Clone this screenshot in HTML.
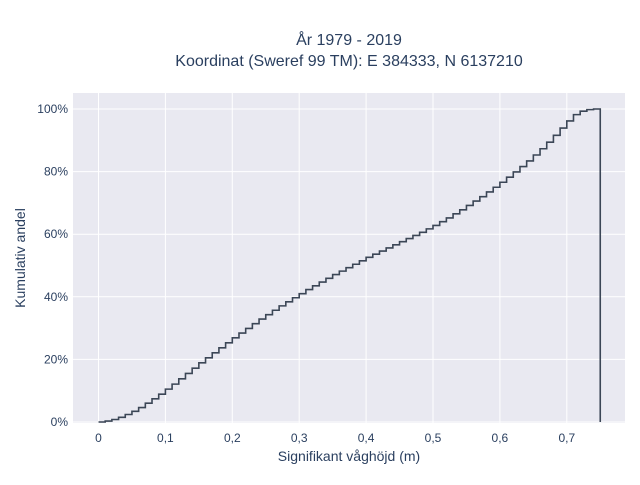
<!DOCTYPE html>
<html><head><meta charset="utf-8"><style>
body{margin:0;background:#fff;font-family:"Liberation Sans",sans-serif}
svg text{font-family:"Liberation Sans",sans-serif;fill:#2a3f5f}
</style></head><body>
<svg width="640" height="480">
<rect x="73" y="93" width="552" height="330" fill="#e9e9f1"/>
<g id="grid"></g>
<g id="axes"></g>
<path id="line" fill="none" stroke="#3b4656" stroke-width="1.6"/>
<text x="349" y="45" text-anchor="middle" font-size="16">År 1979 - 2019</text>
<text x="349" y="66" text-anchor="middle" font-size="16">Koordinat (Sweref 99 TM): E 384333, N 6137210</text>
<text x="349" y="461" text-anchor="middle" font-size="14">Signifikant våghöjd (m)</text>
<text transform="translate(25,258) rotate(-90)" text-anchor="middle" font-size="14">Kumulativ andel</text>
</svg>
<script>
const xTicks=[0,0.1,0.2,0.3,0.4,0.5,0.6,0.7];
const xTickLabels=["0","0,1","0,2","0,3","0,4","0,5","0,6","0,7"];
const yTicks=[0,20,40,60,80,100];
const yTickLabels=["0%","20%","40%","60%","80%","100%"];
const binStarts=[0,0.01,0.02,0.03,0.04,0.05,0.06,0.07,0.08,0.09,0.10,0.11,0.12,0.13,0.14,0.15,0.16,0.17,0.18,0.19,0.20,0.21,0.22,0.23,0.24,0.25,0.26,0.27,0.28,0.29,0.30,0.31,0.32,0.33,0.34,0.35,0.36,0.37,0.38,0.39,0.40,0.41,0.42,0.43,0.44,0.45,0.46,0.47,0.48,0.49,0.50,0.51,0.52,0.53,0.54,0.55,0.56,0.57,0.58,0.59,0.60,0.61,0.62,0.63,0.64,0.65,0.66,0.67,0.68,0.69,0.70,0.71,0.72,0.73,0.74];
const cumValues=[0,0.3,0.8,1.5,2.4,3.4,4.6,6.0,7.4,8.9,10.5,12.1,13.8,15.5,17.2,18.9,20.5,22.1,23.7,25.3,26.9,28.4,29.9,31.4,32.9,34.3,35.7,37.1,38.4,39.7,41.0,42.3,43.5,44.7,45.9,47.1,48.2,49.3,50.4,51.5,52.6,53.6,54.6,55.6,56.6,57.6,58.6,59.6,60.6,61.7,62.8,64.0,65.2,66.5,67.8,69.2,70.6,72.0,73.5,75.0,76.6,78.2,79.9,81.6,83.4,85.3,87.3,89.4,91.6,93.9,96.2,98.2,99.3,99.8,100];
const binEnd=0.75;
const NS="http://www.w3.org/2000/svg";
const xs=v=>98.5+v*669;
const ys=v=>422-v*3.13;
const grid=document.getElementById('grid'),axes=document.getElementById('axes');
xTicks.forEach((t,i)=>{
 const l=document.createElementNS(NS,'line');
 
 
 l.setAttribute('x1',xs(t));l.setAttribute('x2',xs(t));l.setAttribute('y1',93);l.setAttribute('y2',423);
 l.setAttribute('stroke','#fff');l.setAttribute('stroke-width','1');grid.appendChild(l);
 const tx=document.createElementNS(NS,'text');
 
 
 tx.setAttribute('x',xs(t));tx.setAttribute('y',442);tx.setAttribute('text-anchor','middle');tx.setAttribute('font-size','12');
 tx.textContent=xTickLabels[i];axes.appendChild(tx);
});
yTicks.forEach((t,i)=>{
 const l=document.createElementNS(NS,'line');
 
 
 l.setAttribute('x1',73);l.setAttribute('x2',625);l.setAttribute('y1',ys(t));l.setAttribute('y2',ys(t));
 l.setAttribute('stroke','#fff');l.setAttribute('stroke-width','1');grid.appendChild(l);
 const tx=document.createElementNS(NS,'text');
 
 
 tx.setAttribute('x',68);tx.setAttribute('y',ys(t)+4);tx.setAttribute('text-anchor','end');tx.setAttribute('font-size','12');
 tx.textContent=yTickLabels[i];axes.appendChild(tx);
});
let d='M'+xs(binStarts[0])+','+ys(cumValues[0]);
for(let i=0;i<binStarts.length;i++){
 const xe=i+1<binStarts.length?binStarts[i+1]:binEnd;
 d+=' L'+xs(binStarts[i])+','+ys(cumValues[i])+' L'+xs(xe)+','+ys(cumValues[i]);
}
d+=' L'+xs(binEnd)+','+ys(0);
document.getElementById('line').setAttribute('d',d);
</script>
</body></html>
